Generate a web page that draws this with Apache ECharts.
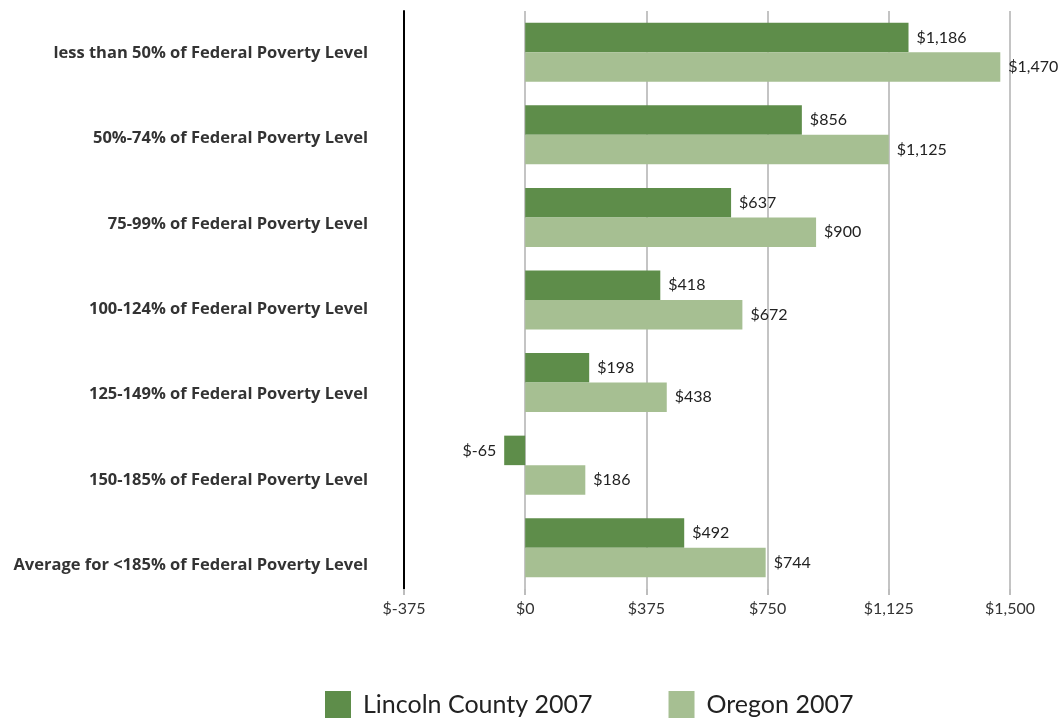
<!DOCTYPE html>
<html>
<head>
<meta charset="utf-8">
<script src="https://cdn.jsdelivr.net/npm/echarts@6/dist/echarts.min.js"></script>
<style>html,body{margin:0;padding:0;background:#fff;}#c{width:1062px;height:721px;}</style>
</head>
<body>
<div id="c"></div>
<script>
const categories = [
  'less than 50% of Federal Poverty Level',
  '50%-74% of Federal Poverty Level',
  '75-99% of Federal Poverty Level',
  '100-124% of Federal Poverty Level',
  '125-149% of Federal Poverty Level',
  '150-185% of Federal Poverty Level',
  'Average for <185% of Federal Poverty Level'
];
const lincoln = [1186, 856, 637, 418, 198, -65, 492];
const oregon = [1470, 1125, 900, 672, 438, 186, 744];
const seriesNames = ['Lincoln County 2007', 'Oregon 2007'];

const FONT = 'Lato, "Open Sans", sans-serif';
const fmt = v => '$' + Number(v).toLocaleString('en-US');
const mk = arr => arr.map(v => ({value: v, label: {position: v < 0 ? 'left' : 'right'}}));

// category labels drift slightly downward in the original
const rich = {};
for (let i = 0; i < categories.length; i++) {
  rich['c' + i] = {fontSize: 16.5, fontWeight: 'bold', color: '#333', fontFamily: '"Open Sans", sans-serif', padding: [2 + i * 5.6, 0, 0, 0]};
}

const chart = echarts.init(document.getElementById('c'));
chart.setOption({
  animation: false,
  textStyle: {fontFamily: FONT},
  grid: {left: 404, right: 52, top: 11, bottom: 132, containLabel: false},
  legend: {
    bottom: -2, left: 320, itemWidth: 26, itemHeight: 27, itemGap: 76,
    icon: 'rect',
    textStyle: {fontSize: 25, color: '#222', fontFamily: FONT, padding: [0, 0, 0, 7]},
    data: seriesNames
  },
  xAxis: {
    type: 'value', min: -375, max: 1500, interval: 375,
    axisLine: {show: false},
    axisTick: {show: true, length: 6, lineStyle: {color: '#bdbdbd', width: 2}},
    splitLine: {show: true, lineStyle: {color: '#c4c4c4', width: 2}},
    axisLabel: {formatter: fmt, fontSize: 16, color: '#333', margin: 12}
  },
  yAxis: {
    type: 'category', data: categories, inverse: true,
    axisLine: {show: true, onZero: false, lineStyle: {color: '#000', width: 2}},
    axisTick: {show: false},
    axisLabel: {
      margin: 36,
      formatter: (v, i) => '{c' + i + '|' + v + '}',
      rich: rich
    }
  },
  series: [
    {
      name: seriesNames[0], type: 'bar', data: mk(lincoln),
      barWidth: 29.5, barGap: '0%',
      itemStyle: {color: '#5E8D4A'},
      label: {show: true, formatter: p => fmt(p.value), fontSize: 16, color: '#222', distance: 8}
    },
    {
      name: seriesNames[1], type: 'bar', data: mk(oregon),
      barWidth: 29.5, barGap: '0%',
      itemStyle: {color: '#A6BF92'},
      label: {show: true, formatter: p => fmt(p.value), fontSize: 16, color: '#222', distance: 8}
    }
  ]
});
</script>
</body>
</html>
